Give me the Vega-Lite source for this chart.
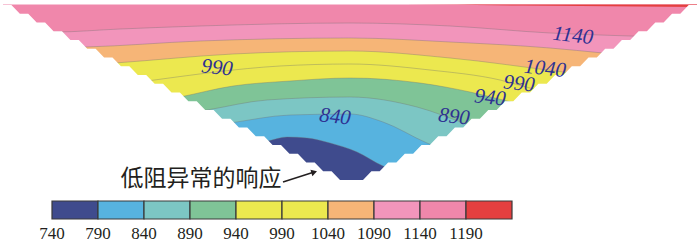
{
  "$schema": "https://vega.github.io/schema/vega-lite/v6.json",
  "width": 700,
  "height": 244,
  "autosize": {"type": "fit", "contains": "padding"},
  "padding": 0,
  "background": "white",
  "config": {"view": {"stroke": null}, "axis": {"disable": true}, "legend": {"disable": true}},
  "datasets": {
    "contours": [
      {"c": 1190, "d": 0, "z": -0.25}, {"c": 1190, "d": 200, "z": -0.25}, {"c": 1190, "d": 260, "z": 0.3}, {"c": 1190, "d": 347, "z": 1.0},
      {"c": 1140, "d": 0, "z": 13.5}, {"c": 1140, "d": 26, "z": 13.5}, {"c": 1140, "d": 58.5, "z": 12}, {"c": 1140, "d": 98.5, "z": 10.5}, {"c": 1140, "d": 173.5, "z": 9}, {"c": 1140, "d": 223.5, "z": 10.5}, {"c": 1140, "d": 273.5, "z": 14}, {"c": 1140, "d": 313.5, "z": 15.5}, {"c": 1140, "d": 347, "z": 16.5},
      {"c": 1090, "d": 0, "z": 21.5}, {"c": 1090, "d": 41, "z": 21}, {"c": 1090, "d": 98.5, "z": 18}, {"c": 1090, "d": 173.5, "z": 16.5}, {"c": 1090, "d": 223.5, "z": 18.5}, {"c": 1090, "d": 273.5, "z": 21.5}, {"c": 1090, "d": 300, "z": 24}, {"c": 1090, "d": 347, "z": 28.5},
      {"c": 1040, "d": 0, "z": 32.5}, {"c": 1040, "d": 56, "z": 29}, {"c": 1040, "d": 115, "z": 24.5}, {"c": 1040, "d": 173.5, "z": 23}, {"c": 1040, "d": 223.5, "z": 26.5}, {"c": 1040, "d": 280, "z": 33.5}, {"c": 1040, "d": 347, "z": 41.5},
      {"c": 990, "d": 0, "z": 45}, {"c": 990, "d": 72, "z": 38}, {"c": 990, "d": 106, "z": 33.5}, {"c": 990, "d": 138.5, "z": 30.5}, {"c": 990, "d": 173.5, "z": 29.5}, {"c": 990, "d": 213.5, "z": 32.5}, {"c": 990, "d": 248.5, "z": 37.5}, {"c": 990, "d": 263.5, "z": 41.5}, {"c": 990, "d": 347, "z": 52.5},
      {"c": 940, "d": 0, "z": 60}, {"c": 940, "d": 88.5, "z": 46}, {"c": 940, "d": 115, "z": 40.5}, {"c": 940, "d": 143.5, "z": 38}, {"c": 940, "d": 173.5, "z": 36.5}, {"c": 940, "d": 208.5, "z": 39}, {"c": 940, "d": 233.5, "z": 43.5}, {"c": 940, "d": 252, "z": 48}, {"c": 940, "d": 347, "z": 67.5},
      {"c": 890, "d": 0, "z": 67.5}, {"c": 890, "d": 102, "z": 52.5}, {"c": 890, "d": 132, "z": 47.5}, {"c": 890, "d": 173.5, "z": 46}, {"c": 890, "d": 207, "z": 51}, {"c": 890, "d": 232, "z": 59.5}, {"c": 890, "d": 347, "z": 85},
      {"c": 840, "d": 0, "z": 77.5}, {"c": 840, "d": 113.5, "z": 59}, {"c": 840, "d": 143.5, "z": 55}, {"c": 840, "d": 173.5, "z": 54.5}, {"c": 840, "d": 190, "z": 58.5}, {"c": 840, "d": 212, "z": 69}, {"c": 840, "d": 347, "z": 97.5},
      {"c": 790, "d": 0, "z": 97.5}, {"c": 790, "d": 132.5, "z": 68}, {"c": 790, "d": 142, "z": 66}, {"c": 790, "d": 152, "z": 66.5}, {"c": 790, "d": 163.5, "z": 69}, {"c": 790, "d": 177, "z": 73.5}, {"c": 790, "d": 190, "z": 80.5}, {"c": 790, "d": 347, "z": 112.5}
    ],
    "edge": [
      {"d": 0, "z": 0}, {"d": 4.2, "z": 0}, {"d": 8.43, "z": 4.38}, {"d": 12.63, "z": 4.38}, {"d": 16.85, "z": 8.75}, {"d": 21.05, "z": 8.75}, {"d": 25.28, "z": 13.13}, {"d": 29.48, "z": 13.13}, {"d": 33.7, "z": 17.5}, {"d": 37.9, "z": 17.5}, {"d": 42.13, "z": 21.88}, {"d": 46.33, "z": 21.88}, {"d": 50.55, "z": 26.25}, {"d": 54.75, "z": 26.25}, {"d": 58.98, "z": 30.63}, {"d": 63.18, "z": 30.63}, {"d": 67.4, "z": 35}, {"d": 71.6, "z": 35}, {"d": 75.83, "z": 39.38}, {"d": 80.03, "z": 39.38}, {"d": 84.25, "z": 43.75}, {"d": 88.45, "z": 43.75}, {"d": 92.68, "z": 48.13}, {"d": 96.88, "z": 48.13}, {"d": 101.1, "z": 52.5}, {"d": 105.3, "z": 52.5}, {"d": 109.53, "z": 56.88}, {"d": 113.73, "z": 56.88}, {"d": 117.95, "z": 61.25}, {"d": 122.15, "z": 61.25}, {"d": 126.38, "z": 65.63}, {"d": 130.58, "z": 65.63}, {"d": 134.8, "z": 70}, {"d": 139, "z": 70}, {"d": 143.23, "z": 74.38}, {"d": 147.43, "z": 74.38}, {"d": 151.65, "z": 78.75}, {"d": 155.85, "z": 78.75}, {"d": 160.08, "z": 83.13}, {"d": 164.28, "z": 83.13}, {"d": 168.5, "z": 87.5},
      {"d": 180, "z": 87.5}, {"d": 184.2, "z": 83.13}, {"d": 188.35, "z": 83.13}, {"d": 192.55, "z": 78.75}, {"d": 196.7, "z": 78.75}, {"d": 200.9, "z": 74.38}, {"d": 205.05, "z": 74.38}, {"d": 209.25, "z": 70}, {"d": 213.4, "z": 70}, {"d": 217.6, "z": 65.63}, {"d": 221.75, "z": 65.63}, {"d": 225.95, "z": 61.25}, {"d": 230.1, "z": 61.25}, {"d": 234.3, "z": 56.88}, {"d": 238.45, "z": 56.88}, {"d": 242.65, "z": 52.5}, {"d": 246.8, "z": 52.5}, {"d": 251, "z": 48.13}, {"d": 255.15, "z": 48.13}, {"d": 259.35, "z": 43.75}, {"d": 263.5, "z": 43.75}, {"d": 267.7, "z": 39.38}, {"d": 271.85, "z": 39.38}, {"d": 276.05, "z": 35}, {"d": 280.2, "z": 35}, {"d": 284.4, "z": 30.63}, {"d": 288.55, "z": 30.63}, {"d": 292.75, "z": 26.25}, {"d": 296.9, "z": 26.25}, {"d": 301.1, "z": 21.88}, {"d": 305.25, "z": 21.88}, {"d": 309.45, "z": 17.5}, {"d": 313.6, "z": 17.5}, {"d": 317.8, "z": 13.13}, {"d": 321.95, "z": 13.13}, {"d": 326.15, "z": 8.75}, {"d": 330.3, "z": 8.75}, {"d": 334.5, "z": 4.38}, {"d": 338.65, "z": 4.38}, {"d": 342.85, "z": 0}, {"d": 347, "z": 0}
    ],
    "labels": [
      {"v": 1140, "d": 285, "z": 15.5},
      {"v": 1040, "d": 271, "z": 32},
      {"v": 990, "d": 258, "z": 39.5},
      {"v": 940, "d": 243.5, "z": 46.5},
      {"v": 890, "d": 225.5, "z": 56},
      {"v": 840, "d": 166, "z": 56},
      {"v": 990, "d": 107, "z": 31.5}
    ],
    "note": [{"label": "低阻异常的响应", "d": 99, "z": 87}],
    "arrow": [{"d": 140, "z": 88.5}, {"d": 156, "z": 83.4}],
    "arrowhead": [{"d": 155.6, "z": 83.6}],
    "legend": [
      {"lo": 740, "hi": 790}, {"lo": 790, "hi": 840}, {"lo": 840, "hi": 890}, {"lo": 890, "hi": 940}, {"lo": 940, "hi": 990},
      {"lo": 990, "hi": 1040}, {"lo": 1040, "hi": 1090}, {"lo": 1090, "hi": 1140}, {"lo": 1140, "hi": 1190}, {"lo": 1190, "hi": 1240}
    ],
    "unit": [{"u": "Ωm"}]
  },
  "layer": [
    {
      "data": {"name": "contours"},
      "encoding": {
        "x": {"field": "d", "type": "quantitative", "scale": {"domain": [-1.5, 348.5], "nice": false, "zero": false}, "axis": null},
        "y": {"field": "z", "type": "quantitative", "scale": {"domain": [-2.5, 119.5], "reverse": true, "nice": false, "zero": false}, "axis": null}
      },
      "layer": [
        {"transform": [{"filter": "datum.c == 1190"}], "mark": {"type": "area", "color": "#F087AB"}, "encoding": {"y": {"datum": -0.25}, "y2": {"datum": 119.5}}},
        {"transform": [{"filter": "datum.c == 1190"}], "mark": {"type": "area", "color": "#E43F3F", "interpolate": "monotone"}, "encoding": {"y2": {"datum": -0.25}}},
        {"transform": [{"filter": "datum.c == 1140"}], "mark": {"type": "area", "color": "#F295BB", "interpolate": "monotone"}, "encoding": {"y2": {"datum": 119.5}}},
        {"transform": [{"filter": "datum.c == 1090"}], "mark": {"type": "area", "color": "#F6B577", "interpolate": "monotone"}, "encoding": {"y2": {"datum": 119.5}}},
        {"transform": [{"filter": "datum.c == 1040"}], "mark": {"type": "area", "color": "#ECE84F", "interpolate": "monotone"}, "encoding": {"y2": {"datum": 119.5}}},
        {"transform": [{"filter": "datum.c == 990"}], "mark": {"type": "area", "color": "#ECE84F", "interpolate": "monotone"}, "encoding": {"y2": {"datum": 119.5}}},
        {"transform": [{"filter": "datum.c == 940"}], "mark": {"type": "area", "color": "#7FC497", "interpolate": "monotone"}, "encoding": {"y2": {"datum": 119.5}}},
        {"transform": [{"filter": "datum.c == 890"}], "mark": {"type": "area", "color": "#7CC6C4", "interpolate": "monotone"}, "encoding": {"y2": {"datum": 119.5}}},
        {"transform": [{"filter": "datum.c == 840"}], "mark": {"type": "area", "color": "#57B3DF", "interpolate": "monotone"}, "encoding": {"y2": {"datum": 119.5}}},
        {"transform": [{"filter": "datum.c == 790"}], "mark": {"type": "area", "color": "#3F4B8D", "interpolate": "monotone"}, "encoding": {"y2": {"datum": 119.5}}},
        {"transform": [{"filter": "datum.c != 1190"}], "mark": {"type": "line", "color": "#707070", "opacity": 0.45, "strokeWidth": 0.8, "interpolate": "monotone"}, "encoding": {"detail": {"field": "c", "type": "nominal"}}},
        {"data": {"name": "edge"}, "mark": {"type": "area", "color": "white"}, "encoding": {"y2": {"datum": 119.5}}},
        {"data": {"name": "labels"}, "mark": {"type": "text", "font": "Liberation Serif", "fontStyle": "italic", "fontSize": 21, "color": "#2E3192", "align": "center", "baseline": "middle", "angle": 6}, "encoding": {"text": {"field": "v", "type": "nominal"}}},
        {"data": {"name": "note"}, "mark": {"type": "text", "font": "Noto Sans CJK SC", "fontSize": 23, "color": "#231F20", "align": "center", "baseline": "middle"}, "encoding": {"text": {"field": "label", "type": "nominal"}}},
        {"data": {"name": "arrow"}, "mark": {"type": "line", "color": "#231F20", "strokeWidth": 1.5}, "encoding": {}},
        {"data": {"name": "arrowhead"}, "mark": {"type": "point", "shape": "triangle-right", "filled": true, "color": "#231F20", "size": 45, "angle": -17, "opacity": 1}, "encoding": {}}
      ]
    },
    {
      "data": {"name": "legend"},
      "encoding": {
        "x": {"field": "lo", "type": "quantitative", "scale": {"domain": [683.48, 1444.35], "nice": false, "zero": false}, "axis": null}
      },
      "layer": [
        {"mark": {"type": "rect", "stroke": "#3A3A3A", "strokeWidth": 1.2}, "encoding": {
          "x2": {"field": "hi"},
          "y": {"datum": 0, "scale": {"domain": [-1.3889, 12.1667], "nice": false, "zero": false}, "axis": null},
          "y2": {"datum": 1},
          "color": {"field": "lo", "type": "ordinal", "legend": null, "scale": {"domain": [740, 790, 840, 890, 940, 990, 1040, 1090, 1140, 1190], "range": ["#3F4B8D", "#57B3DF", "#7CC6C4", "#7FC497", "#ECE84F", "#ECE84F", "#F6B577", "#F295BB", "#F087AB", "#E43F3F"]}}
        }},
        {"mark": {"type": "text", "font": "Liberation Serif", "fontSize": 17, "color": "#231F20", "align": "center", "baseline": "middle"}, "encoding": {
          "y": {"datum": -0.8333},
          "text": {"field": "lo", "type": "nominal"}
        }},
        {"data": {"name": "unit"}, "mark": {"type": "text", "font": "Liberation Serif", "fontSize": 22, "color": "#231F20", "align": "left", "baseline": "middle"}, "encoding": {
          "x": {"datum": 1250},
          "y": {"datum": 0.65},
          "text": {"field": "u", "type": "nominal"}
        }}
      ]
    }
  ],
  "resolve": {"scale": {"x": "independent", "y": "independent"}}
}
